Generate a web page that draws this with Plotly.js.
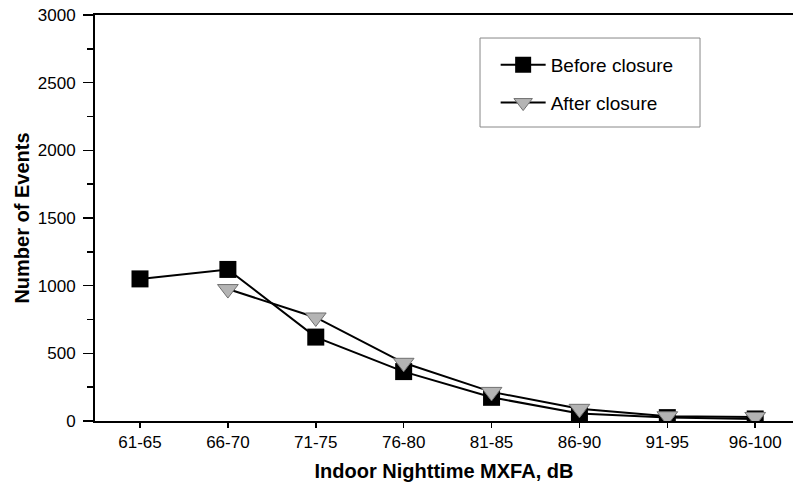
<!DOCTYPE html>
<html>
<head>
<meta charset="utf-8">
<script src="https://cdn.plot.ly/plotly-3.0.1.min.js"></script>
<style>html,body{margin:0;padding:0;background:#fff;}#chart{width:793px;height:487px;}</style>
</head>
<body>
<div id="chart"></div>
<script>
var categories = ["61-65","66-70","71-75","76-80","81-85","86-90","91-95","96-100"];
var beforeClosure = [1050, 1120, 620, 365, 175, 55, 25, 15];
var afterCats = ["66-70","71-75","76-80","81-85","86-90","91-95","96-100"];
var afterClosure = [975, 765, 430, 215, 90, 35, 30];

var traces = [
  {
    x: categories, y: beforeClosure, name: "Before closure", type: "scatter", mode: "lines+markers",
    line: {color: "#000", width: 2},
    marker: {symbol: "square", size: 17, color: "#000", line: {color: "#000", width: 0}},
    legendgroup: "a"
  },
  {
    x: afterCats, y: afterClosure, name: "After closure", type: "scatter", mode: "lines+markers",
    line: {color: "#000", width: 2},
    marker: {symbol: "triangle-down", size: 18, color: "#b4b4b4", line: {color: "#707070", width: 1}},
    legendgroup: "b"
  }
];

var layout = {
  width: 793, height: 487,
  margin: {l: 95, r: 0, t: 15, b: 66},
  paper_bgcolor: "#fff", plot_bgcolor: "#fff",
  font: {family: "Liberation Sans, Arial, sans-serif", color: "#000", size: 17},
  showlegend: true,
  legend: {
    x: 0.574, y: 0.9236, xanchor: "left", yanchor: "top",
    bgcolor: "rgba(0,0,0,0)", borderwidth: 0,
    font: {size: 19, color: "#000"},
    itemwidth: 45,
    traceorder: "grouped", tracegroupgap: 10
  },
  shapes: [
    {type: "rect", xref: "paper", yref: "paper", x0: 0.5516, x1: 0.8668, y0: 0.7241, y1: 0.9433,
     line: {color: "#888", width: 1}, fillcolor: "rgba(0,0,0,0)", layer: "below"}
  ],
  xaxis: {
    type: "category", categoryorder: "array", categoryarray: categories,
    range: [-0.512, 7.43],
    showline: true, linecolor: "#000", linewidth: 2, mirror: true,
    showgrid: false, zeroline: false,
    ticks: "outside", ticklen: 5, tickwidth: 1.5, tickcolor: "#000",
    tickfont: {size: 17},
    title: {text: "<b>Indoor Nighttime MXFA, dB</b>", font: {size: 20}, standoff: 13}
  },
  yaxis: {
    range: [0, 3000], tickvals: [0,500,1000,1500,2000,2500,3000],
    showline: true, linecolor: "#000", linewidth: 2, mirror: false,
    showgrid: false, zeroline: false,
    ticks: "outside", ticklen: 10, tickwidth: 1.5, tickcolor: "#000",
    tickfont: {size: 17}, ticklabelstandoff: 4,
    minor: {dtick: 250, ticks: "outside", ticklen: 6, tickwidth: 1.5, tickcolor: "#000", showgrid: false},
    title: {text: "<b>Number of Events</b>", font: {size: 20}, standoff: 3}
  }
};

Plotly.newPlot("chart", traces, layout, {displayModeBar: false, staticPlot: true});
</script>
</body>
</html>
